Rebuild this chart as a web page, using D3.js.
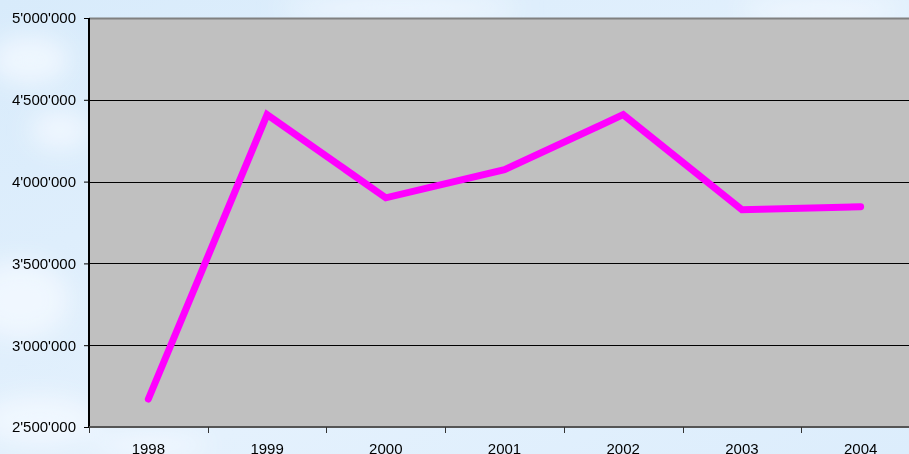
<!DOCTYPE html>
<html>
<head>
<meta charset="utf-8">
<script src="https://cdn.jsdelivr.net/npm/d3@7"></script>
<style>
  html, body { margin: 0; padding: 0; overflow: hidden; }
  svg { display: block; }
  text { font-family: "Liberation Sans", Arial, sans-serif; }
</style>
</head>
<body>
<div id="chart"></div>
<script>
// chart data
var years  = ["1998", "1999", "2000", "2001", "2002", "2003", "2004"];
var values = [2671000, 4409000, 3901000, 4073000, 4409000, 3828000, 3846000];
var yTicks = [2500000, 3000000, 3500000, 4000000, 4500000, 5000000];

var W = 909, H = 454;
var margin = {top: 18, left: 89, bottom: 27};
var plotW = 831, plotH = H - margin.top - margin.bottom;

var svg = d3.select("#chart").append("svg")
    .attr("width", W).attr("height", H);

// sky background
var defs = svg.append("defs");
var grad = defs.append("linearGradient").attr("id", "sky")
    .attr("x1", 0).attr("y1", 0).attr("x2", 1).attr("y2", 1);
grad.append("stop").attr("offset", "0%").attr("stop-color", "#d8ebfb");
grad.append("stop").attr("offset", "60%").attr("stop-color", "#e4f1fd");
grad.append("stop").attr("offset", "100%").attr("stop-color", "#dcedfc");
var blur = defs.append("filter").attr("id", "blur")
    .attr("x", "-50%").attr("y", "-50%").attr("width", "200%").attr("height", "200%");
blur.append("feGaussianBlur").attr("stdDeviation", 12);

svg.append("rect").attr("width", W).attr("height", H).attr("fill", "url(#sky)");
var clouds = [[30, 60, 40, 25], [60, 130, 30, 20], [20, 300, 50, 40], [40, 420, 60, 25],
              [400, 8, 120, 12], [820, 10, 80, 12], [150, 445, 60, 12]];
svg.append("g").attr("filter", "url(#blur)")
  .selectAll("ellipse").data(clouds).enter().append("ellipse")
    .attr("cx", function (d) { return d[0]; })
    .attr("cy", function (d) { return d[1]; })
    .attr("rx", function (d) { return d[2]; })
    .attr("ry", function (d) { return d[3]; })
    .attr("fill", "#f4f9ff").attr("opacity", 0.8);

// scales
var x = d3.scaleBand().domain(years).range([0, plotW]);
var y = d3.scaleLinear().domain([2500000, 5000000]).range([plotH, 0]);

var fmt = function (v) { return d3.format(",")(v).replace(/,/g, "'"); };

var g = svg.append("g")
    .attr("transform", "translate(" + margin.left + "," + margin.top + ")");

// plot area
g.append("rect").attr("width", plotW).attr("height", plotH).attr("fill", "#c0c0c0");

// gridlines
g.append("g").selectAll("line").data(yTicks.slice(1, -1)).enter().append("line")
    .attr("x1", 0).attr("x2", plotW)
    .attr("y1", function (d) { return Math.round(y(d)) + 0.5; })
    .attr("y2", function (d) { return Math.round(y(d)) + 0.5; })
    .attr("stroke", "#000").attr("stroke-width", 1);

// top border
g.append("line").attr("x1", 0).attr("x2", plotW).attr("y1", 0.5).attr("y2", 0.5)
    .attr("stroke", "#808080").attr("stroke-width", 2);

// y axis
var yAxis = d3.axisLeft(y).tickValues(yTicks).tickFormat(fmt).tickSize(5).tickPadding(8);
var yAxisEl = g.append("g").call(yAxis);
yAxisEl.select(".domain").remove();
yAxisEl.append("line").attr("x1", 0).attr("x2", 0).attr("y1", 0).attr("y2", plotH)
    .attr("stroke", "#000").attr("stroke-width", 2);
yAxisEl.selectAll(".tick line").attr("stroke", "#000");
yAxisEl.selectAll(".tick text").attr("fill", "#000").style("font-size", "15px");

// x axis
var xAxis = d3.axisBottom(x).tickSize(0).tickPadding(16);
var xAxisEl = g.append("g").attr("transform", "translate(0," + plotH + ")").call(xAxis);
xAxisEl.select(".domain").remove();
xAxisEl.append("line").attr("x1", 0).attr("x2", plotW).attr("y1", 0).attr("y2", 0)
    .attr("stroke", "#555").attr("stroke-width", 2);
xAxisEl.selectAll(".tick text").attr("fill", "#000").style("font-size", "15px");
xAxisEl.selectAll(".xtick").data(years).enter().append("line")
    .attr("x1", function (d) { return Math.round(x(d)) + 0.5; })
    .attr("x2", function (d) { return Math.round(x(d)) + 0.5; })
    .attr("y1", 0).attr("y2", 6)
    .attr("stroke", "#333").attr("stroke-width", 1);

// series line
var line = d3.line()
    .x(function (d, i) { return x(years[i]) + x.bandwidth() / 2; })
    .y(function (d) { return y(d); });

g.append("path").datum(values)
    .attr("d", line)
    .attr("fill", "none")
    .attr("stroke", "#ff00ff")
    .attr("stroke-width", 7)
    .attr("stroke-linecap", "round")
    .attr("stroke-linejoin", "miter");
</script>
</body>
</html>
